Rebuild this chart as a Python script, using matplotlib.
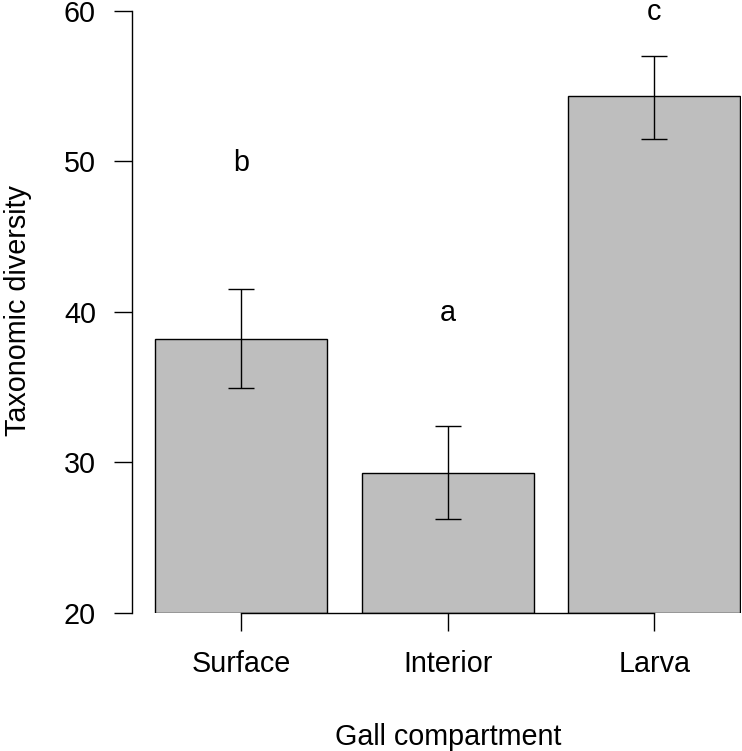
import numpy as np
import matplotlib
matplotlib.use('Agg')
import matplotlib.pyplot as plt
from matplotlib.transforms import offset_copy

compartments = ['Surface', 'Interior', 'Larva']
means = [38.2, 29.3, 54.3]
err_low = [34.9, 26.2, 51.5]
err_high = [41.5, 32.4, 57.0]
letters = ['b', 'a', 'c']
letter_y = [50, 40, 60]
yticks = [20, 30, 40, 50, 60]

plt.rcParams['font.family'] = ['Liberation Sans', 'DejaVu Sans']
fs = 20.7

W, H = 742, 751
fig = plt.figure(figsize=(W / 100, H / 100), dpi=100)
ax = fig.add_axes([132 / W, (H - 612.7) / H, 609 / W, 602 / H])

# R barplot layout: width 1, space 0.2
x = 0.2 + np.arange(len(means)) * 1.2 + 0.5
base = 20
ax.bar(x, np.array(means) - base, bottom=base, width=1.0,
       color='#bebebe', edgecolor='black', linewidth=1.0)

lower = np.array(means) - np.array(err_low)
upper = np.array(err_high) - np.array(means)
ax.errorbar(x, means, yerr=[lower, upper], fmt='none', ecolor='black',
            elinewidth=1.0, capsize=9.7, capthick=1.0)

# letters centred on their value like R's text()
tr = offset_copy(ax.transData, fig=fig, x=0, y=-6.8, units='points')
for xi, t, ly in zip(x, letters, letter_y):
    ax.text(xi, ly, t, ha='center', va='baseline', fontsize=fs,
            clip_on=False, transform=tr)

ax.set_xlim(0.064, 3.605)
ax.set_ylim(20, 60)
ax.set_yticks(yticks)
ax.set_xticks(x)
ax.set_xticklabels(compartments)

for s in ['top', 'right']:
    ax.spines[s].set_visible(False)
ax.spines['bottom'].set_bounds(x[0], x[-1])
ax.spines['left'].set_linewidth(1.0)
ax.spines['bottom'].set_linewidth(1.0)
ax.tick_params(axis='both', length=13, width=1.0, labelsize=fs, pad=13)
ax.tick_params(axis='x', pad=14)

fig.text(448 / W, (H - 737) / H, 'Gall compartment', ha='center', va='center', fontsize=fs)
fig.text(18 / W, (H - 311) / H, 'Taxonomic diversity', ha='center', va='center',
         rotation=90, fontsize=fs)

fig.savefig('out.png', dpi=100)
